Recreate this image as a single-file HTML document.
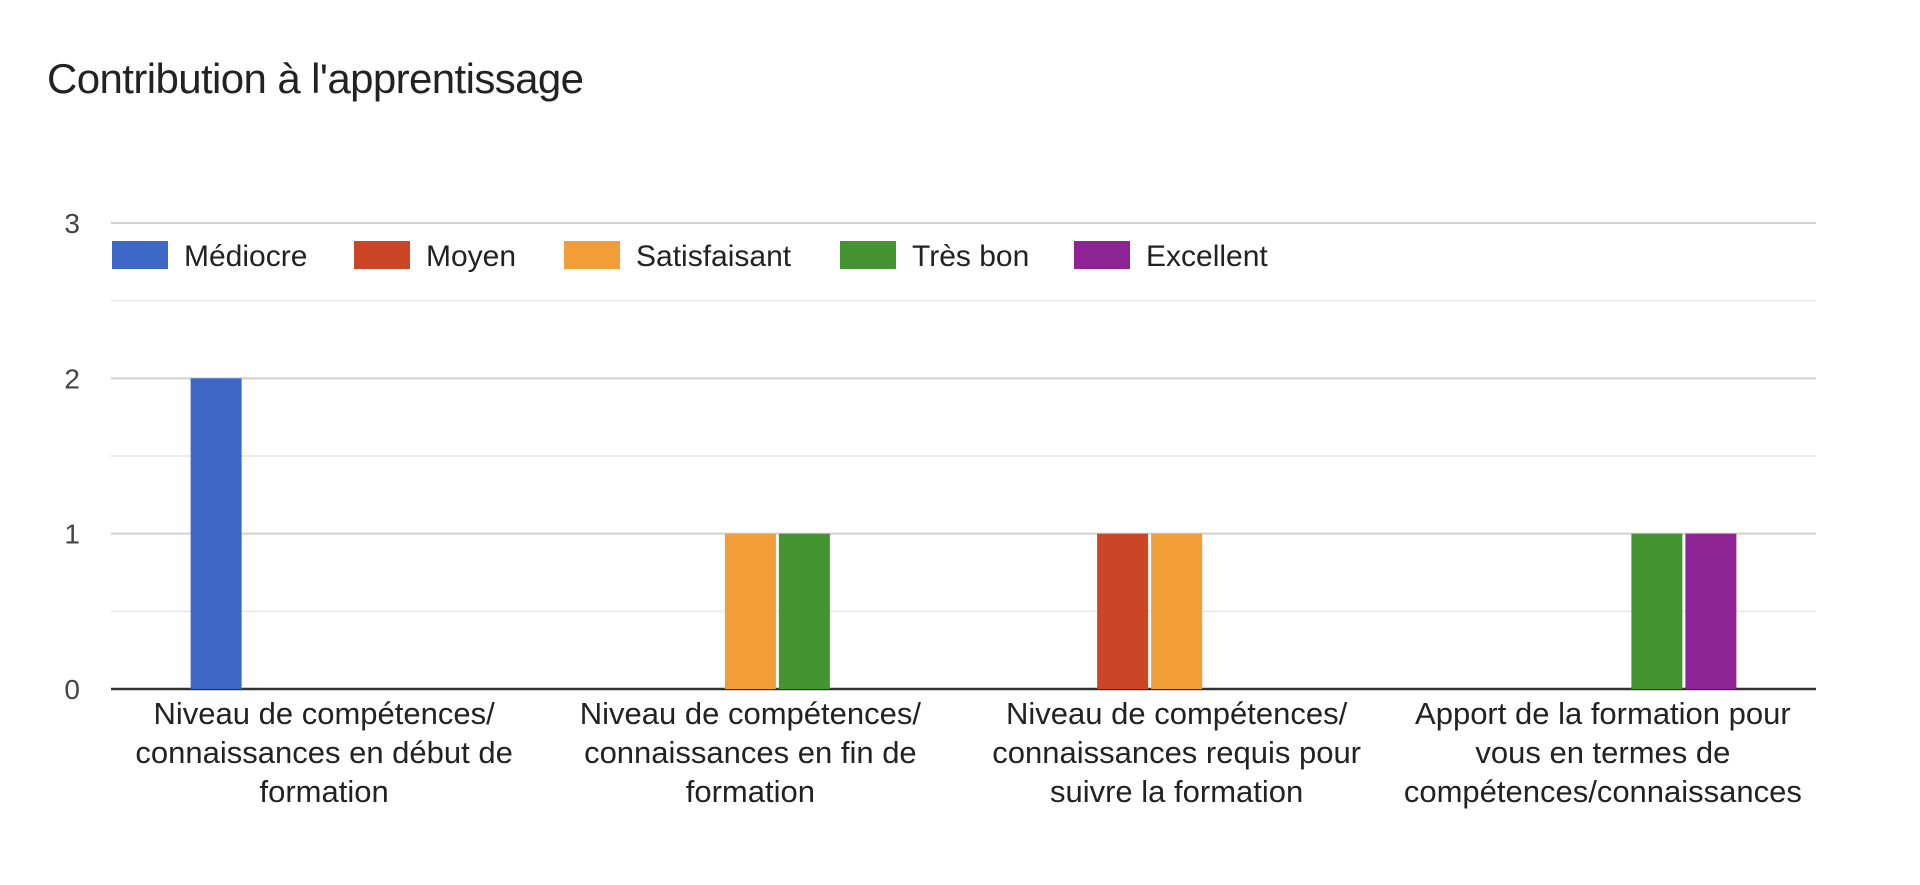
<!DOCTYPE html>
<html><head><meta charset="utf-8"><style>
html,body{margin:0;padding:0;background:#fff;}
svg{display:block;font-family:"Liberation Sans",Arial,sans-serif;}
</style></head><body>
<svg id="chart" width="1920" height="885" viewBox="0 0 1920 885">
<text x="47" y="93" font-size="42" fill="#222" textLength="537">Contribution à l'apprentissage</text>
<g id="grid"></g><g id="bars"></g><g id="legend"></g><g id="xlabels"></g>
</svg>
<script>
const categories=[["Niveau de compétences/","connaissances en début de","formation"],["Niveau de compétences/","connaissances en fin de","formation"],["Niveau de compétences/","connaissances requis pour","suivre la formation"],["Apport de la formation pour","vous en termes de","compétences/connaissances"]];
const seriesNames=["Médiocre","Moyen","Satisfaisant","Très bon","Excellent"];
const seriesColors=["#3d68c8","#cc4527","#f19d38","#459432","#8e2494"];
const mediocre=[2,0,0,0];
const moyen=[0,0,1,0];
const satisfaisant=[0,1,1,0];
const tresBon=[0,1,0,1];
const excellent=[0,0,0,1];
const yTicks=[0,1,2,3];
const series=[mediocre,moyen,satisfaisant,tresBon,excellent];
const NS="http://www.w3.org/2000/svg";
const L=111,R=1816,T=223,B=689,yMax=3;
const y=v=>B-(v/yMax)*(B-T);
const cw=(R-L)/categories.length;
const step=54,bw=51;
const xc=(c,s)=>L+cw*(c+0.5)+(s-(series.length-1)/2)*step;
function mk(tag,attrs,parent){const e=document.createElementNS(NS,tag);for(const k in attrs)e.setAttribute(k,attrs[k]);parent.appendChild(e);return e;}
const grid=document.getElementById('grid');
for(let i=0;i<yTicks.length;i++){
  const v=yTicks[i];
  if(v>0){const g=mk('line',{x1:L,x2:R,y1:y(v),y2:y(v),stroke:'#d0d0d0','stroke-width':2},grid);
  
  }
  if(i<yTicks.length-1){const m=mk('line',{x1:L,x2:R,y1:y(v+0.5),y2:y(v+0.5),stroke:'#ebebeb','stroke-width':2},grid);
  
  }
  const t=mk('text',{x:80,y:y(v)+10,'font-size':28,fill:'#444','text-anchor':'end'},grid);
  t.textContent=v;
  
  
}
const bars=document.getElementById('bars');
series.forEach((arr,s)=>arr.forEach((v,c)=>{if(v<=0)return;
  const r=mk('rect',{x:xc(c,s)-bw/2,y:y(v),width:bw,height:B-y(v),fill:seriesColors[s]},bars);
  
  }));
const ax=mk('line',{x1:L,x2:R,y1:B,y2:B,stroke:'#333','stroke-width':2.5},grid);


const lg=document.getElementById('legend');
const lgX=[112,354,564,840,1074];
seriesNames.forEach((n,i)=>{
  const g=mk('g',{},lg);
  
  
  mk('rect',{x:lgX[i],y:241,width:56,height:28,fill:seriesColors[i]},g);
  const t=mk('text',{x:lgX[i]+72,y:266,'font-size':30,fill:'#222'},g);
  t.textContent=n;
});
const xl=document.getElementById('xlabels');
categories.forEach((lines,c)=>{
  const g=mk('g',{},xl);
  
  
  lines.forEach((ln,j)=>{const t=mk('text',{x:L+cw*(c+0.5),y:724+j*39,'font-size':31,fill:'#222','text-anchor':'middle'},g);t.textContent=ln;});
});
</script>
</body></html>
